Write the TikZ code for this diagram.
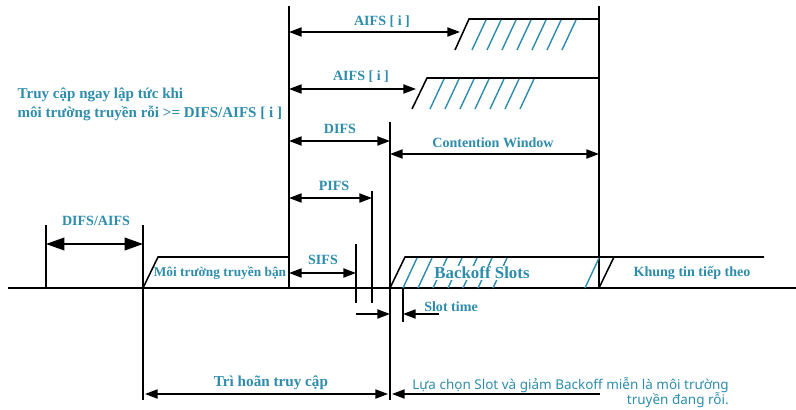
\documentclass[tikz,border=0pt]{standalone}
\usepackage{fontspec}
\setmainfont{Liberation Serif}
\newfontfamily\sansvn{Noto Sans}
\usetikzlibrary{arrows.meta}

\definecolor{xanh}{RGB}{46,140,172}

\tikzset{
	truc/.style={line width=1.1pt, black},
	muiten/.style={line width=1.1pt, {Triangle[length=9pt,width=6.5pt]}-{Triangle[length=9pt,width=6.5pt]}},
	nhan/.style={text=xanh, font=\bfseries\fontsize{10}{11}\selectfont, inner sep=1pt},
	gach/.style={xanh, line width=1pt},
}

\begin{document}
\begin{tikzpicture}[x=0.025cm, y=-0.025cm, >={Triangle[length=9pt,width=6.5pt]}]
		
		\useasboundingbox (0,0) rectangle (796,409);
		
		% 1. Trục thời gian
		\draw[truc] (8,288) -- (796,288);
		
		% 2. Các vạch mốc thời gian
		\draw[truc] (46,225) -- (46,288);
		\draw[truc] (143,225) -- (143,400);
		\draw[truc] (289,6) -- (289,288);
		\draw[truc] (356,244) -- (356,303);
		\draw[truc] (372,191) -- (372,303);
		\draw[truc] (390,122) -- (390,400);
		\draw[truc] (599,6) -- (599,288);
		\draw[truc] (403,288) -- (403,322);
		
		% 3. Các khung
		\draw[truc] (143,288) -- (158,257) -- (289,257);
		\draw[truc] (455,50) -- (469,19) -- (599,19);
		\draw[truc] (412,109) -- (427,78) -- (599,78);
		\draw[truc] (390,288) -- (405,257) -- (764,257);
		\draw[truc] (599,288) -- (614,257);
		
		% 4. Gạch chéo
		\foreach \x in {472,487,...,562}
		\draw[gach] (\x,50) -- ++(14,-30);
		\foreach \x in {430,445,...,520}
		\draw[gach] (\x,109) -- ++(14,-30);
		\foreach \x in {403,418,...,493}
		\draw[gach] (\x,288) -- ++(14,-30);
		\draw[gach] (585,288) -- ++(14,-30);
		
		% 5. Mũi tên khoảng thời gian
		\draw[line width=1.1pt, {Triangle[length=13pt,width=9pt]}-{Triangle[length=13pt,width=9pt]}] (46,244) -- (143,244);
		\draw[muiten] (289,32) -- (460,32);
		\draw[muiten] (289,89) -- (416,89);
		\draw[muiten] (289,141) -- (390,141);
		\draw[muiten] (390,154) -- (599,154);
		\draw[muiten] (289,198) -- (372,198);
		\draw[muiten] (289,273) -- (356,273);
		\draw[line width=1.1pt, ->] (356,314) -- (390,314);
		\draw[line width=1.1pt, ->] (439,314) -- (403,314);
		\draw[muiten] (145,394) -- (388,394);
		\draw[line width=1.1pt, ->] (600,394) -- (392,394);
		
		% 6. Nhãn
		\node[nhan] (difsaifs) at (96,221) {DIFS/AIFS};
		\node[nhan, font=\bfseries\fontsize{9.5}{12}\selectfont] (ban) at (220,273) {Môi trường truyền bận};
		\node[nhan] (sifs) at (323,260) {SIFS};
		\node[nhan] (pifs) at (334,186) {PIFS};
		\node[nhan] (difs) at (340,129) {DIFS};
		\node[nhan] (cw) at (493,143) {Contention Window};
		\node[nhan] (aifsa) at (382,22) {AIFS [ i ]};
		\node[nhan] (aifsb) at (361,77) {AIFS [ i ]};
		\node[nhan, font=\bfseries\fontsize{10.7}{13.5}\selectfont, align=left, anchor=west] (truycap) at (16,104)
		{Truy cập ngay lập tức khi\\môi trường truyền rỗi >= DIFS/AIFS [ i ]};
		\node[nhan, font=\bfseries\fontsize{12}{13}\selectfont, fill=white, inner sep=0.5pt] (backoff) at (482,273) {Backoff Slots};
		\node[nhan] (khung) at (692,273) {Khung tin tiếp theo};
		\node[nhan] (slot) at (451,307) {Slot time};
		\node[nhan, font=\bfseries\fontsize{10.8}{12}\selectfont] (trihoan) at (271,383) {Trì hoãn truy cập};
		\node[text=xanh, font=\sansvn\fontsize{9.6}{11}\selectfont, align=right, anchor=north east, inner sep=0pt] (luachon) at (729,377)
		{Lựa chọn Slot và giảm Backoff miễn là môi trường\\truyền đang rỗi.};
		
	\end{tikzpicture}
\end{document}
